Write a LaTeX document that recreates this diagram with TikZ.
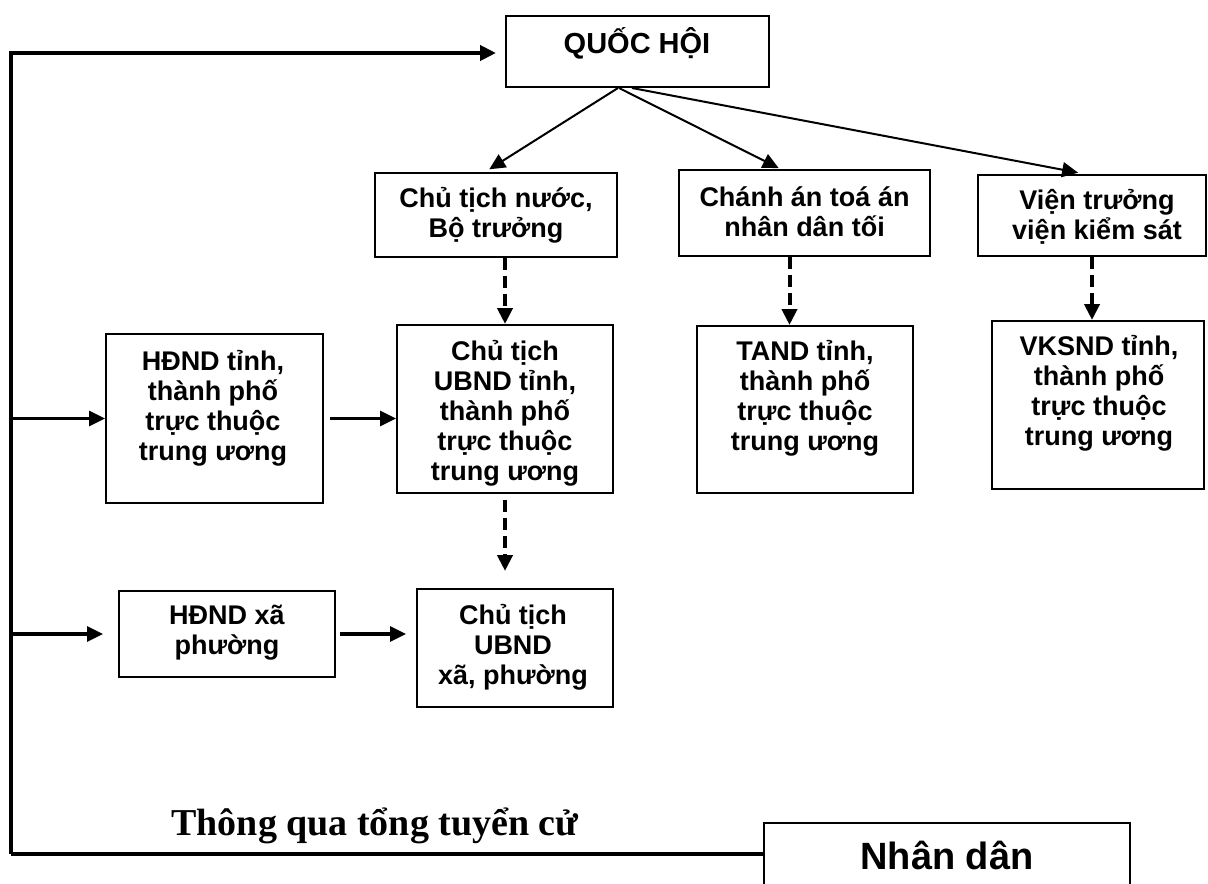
\documentclass[tikz,border=0pt]{standalone}
\usepackage{fontspec}
\setmainfont{Liberation Sans}
\newfontfamily\votefont{Liberation Serif}
\usetikzlibrary{arrows.meta}

\begin{document}
\begin{tikzpicture}[x=0.5pt,y=-0.5pt,
  box/.style 2 args={draw, line width=1pt, minimum width=#1*0.5pt, minimum height=#2*0.5pt, inner sep=0pt},
  txt/.style={align=center, font=\fontsize{13.5}{15}\selectfont\bfseries},
  arrowhead/.style={-{Triangle[length=8pt,width=7.5pt]}},
  trunk/.style={line width=2.2pt},
  feed/.style={arrowhead, line width=1.6pt},
  elect/.style={arrowhead, line width=1pt},
  appoint/.style={arrowhead, line width=2pt, dash pattern=on 6pt off 3pt}]

% Page frame (pixel units of the sketch)
\useasboundingbox (0,0) rectangle (1208,883);
\clip (0,0) rectangle (1208,883);

% Boxes
\node[box={263}{71}] (qh) at (637.5,51.5) {};
\node[box={242}{84}] (ctn) at (496,215) {};
\node[box={251}{86}] (caa) at (804.5,213) {};
\node[box={228}{81}] (vtr) at (1092,215.5) {};
\node[box={217}{169}] (hdt) at (214.5,418.5) {};
\node[box={216}{168}] (ubt) at (505,409) {};
\node[box={216}{167}] (tan) at (805,409.5) {};
\node[box={212}{168}] (vks) at (1098,405) {};
\node[box={216}{86}] (hdx) at (227,634) {};
\node[box={196}{118}] (ctx) at (515,648) {};
\node[box={366}{62}] (nd) at (947,854) {};

% Box texts
\node[txt, font=\fontsize{14.5}{17}\selectfont\bfseries, anchor=base] (qhtext) at (637,54) {QUỐC HỘI};
\node[txt] (ctntext) at (496,215) {Chủ tịch nước,\\Bộ trưởng};
\node[txt] (caatext) at (804.5,212) {Chánh án toá án\\nhân dân tối};
\node[txt] (vtrtext) at (1097,217) {Viện trưởng\\viện kiểm sát};
\node[txt] (hdttext) at (213,408) {HĐND tỉnh,\\thành phố\\trực thuộc\\trung ương};
\node[txt] (ubttext) at (505,413) {Chủ tịch\\UBND tỉnh,\\thành phố\\trực thuộc\\trung ương};
\node[txt] (tantext) at (805,398) {TAND tỉnh,\\thành phố\\trực thuộc\\trung ương};
\node[txt] (vkstext) at (1099,393) {VKSND tỉnh,\\thành phố\\trực thuộc\\trung ương};
\node[txt] (hdxtext) at (227,633) {HĐND xã\\phường};
\node[txt] (ctxtext) at (513,647) {Chủ tịch\\UBND\\xã, phường};
\node[anchor=base, font=\fontsize{19}{22}\selectfont\bfseries] (ndtext) at (947,869) {Nhân dân};
\node[anchor=base, font=\votefont\fontsize{19}{22}\selectfont\bfseries] (vote) at (375,835) {Thông qua tổng tuyển cử};

% Trunk on the left
\coordinate (top) at (11,53);
\coordinate (bot) at (11,854);
\draw[trunk, arrowhead, shorten >=4.5pt] (bot) -- (top) -- (top -| qh.west);
\draw[line width=1.6pt] (bot) -- (nd.west);
\draw[feed] (top |- hdt.west) -- (hdt.west);
\draw[feed, shorten >=7.5pt] (top |- hdx.west) -- (hdx.west);

% Councils elect their chairmen
\draw[feed, shorten <=3pt] (hdt.east) -- (hdt.east -| ubt.west);
\draw[feed, shorten <=2pt, shorten >=5pt] (hdx.east) -- (hdx.east -| ctx.west);

% Elected by the assembly
\draw[elect, shorten >=2.5pt] ([xshift=-9.75pt]qh.south) -- ([xshift=-5.5pt]ctn.north);
\draw[elect, shorten >=1pt] ([xshift=-9.25pt]qh.south) -- ([xshift=-12pt]caa.north);
\draw[elect, shorten >=3.5pt] ([xshift=-2.75pt]qh.south) -- ([xshift=-3.5pt]vtr.north);

% Appointed downwards
\draw[appoint] (ubt.north |- ctn.south) -- (ubt.north);
\draw[appoint] ([xshift=-7.5pt]caa.south) -- ([xshift=-7.5pt]caa.south |- tan.north);
\draw[appoint] (vtr.south) -- (vtr.south |- vks.north);
\draw[appoint, shorten <=3pt, shorten >=8.5pt] (ubt.south) -- (ubt.south |- ctx.north);

\end{tikzpicture}
\end{document}
